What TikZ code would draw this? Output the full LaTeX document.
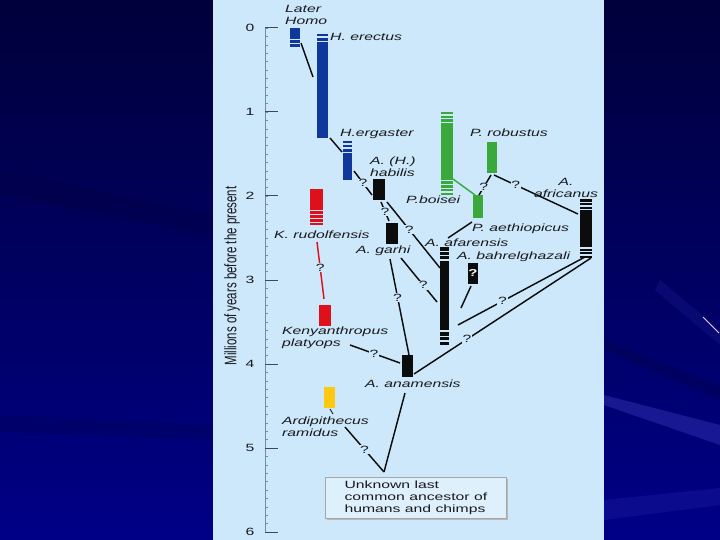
\documentclass[tikz,border=0pt]{standalone}
\usepackage{graphicx}
\usepackage{fontspec}
\setmainfont{Liberation Sans}
\newfontfamily\lf[FakeStretch=1.5]{Liberation Sans}
\usetikzlibrary{calc}
\definecolor{panel}{RGB}{204,232,250}
\definecolor{boxfill}{RGB}{222,240,252}
\definecolor{hblue}{RGB}{16,56,156}
\definecolor{hgreen}{RGB}{58,168,58}
\definecolor{hred}{RGB}{222,16,26}
\definecolor{hyellow}{RGB}{252,200,16}
\definecolor{barblack}{RGB}{12,12,12}
\definecolor{txt}{RGB}{25,25,30}
\definecolor{axisc}{RGB}{120,140,160}
\definecolor{bgtop}{RGB}{0,0,58}
\definecolor{bgmid}{RGB}{0,0,105}
\definecolor{bgbot}{RGB}{0,0,135}
\definecolor{streak}{RGB}{80,80,215}
\definecolor{darkstreak}{RGB}{0,0,40}
\definecolor{pinkline}{RGB}{235,205,240}
\newcommand\mybar[6]{\node[bar, fill=#2, minimum width={(#5-#3)*1pt}, minimum height={(#6-#4)*1pt}] (#1) at (#3,#4) {};}
\newcommand\mygaps[3]{\foreach \gy in {#3} {\draw[gapline] (#1,\gy) -- (#2,\gy);}}
\begin{document}
\begin{tikzpicture}[x=1pt,y=-1pt,
  bar/.style={inner sep=0pt, outer sep=0pt, anchor=north west, draw=none},
  gapline/.style={draw=panel, line width=1.3pt},
  lab/.style={font=\lf\itshape\fontsize{10.5}{12}\selectfont, text=txt, inner sep=0pt},
  up/.style={font=\lf\fontsize{10.5}{12}\selectfont, text=txt, inner sep=0pt},
  q/.style={font=\lf\fontsize{10.5}{12}\selectfont, text=txt, fill=panel, inner sep=0.8pt},
  conn/.style={draw=barblack, line width=1.45pt},
]
\useasboundingbox (0,0) rectangle (720,540);
% background
\shade[top color=bgtop, middle color=bgmid, bottom color=bgbot] (0,0) rectangle (720,540);
\fill[darkstreak, opacity=0.15] (0,170) -- (213,215) -- (213,235) -- (0,195) -- cycle;
\fill[darkstreak, opacity=0.15] (0,415) -- (213,425) -- (213,440) -- (0,432) -- cycle;
\fill[darkstreak, opacity=0.2] (604,340) -- (720,385) -- (720,400) -- (604,350) -- cycle;
\fill[streak, opacity=0.3] (604,395) -- (720,425) -- (720,445) -- (604,405) -- cycle;
\fill[streak, opacity=0.15] (604,500) -- (720,488) -- (720,505) -- (604,520) -- cycle;
\fill[streak, opacity=0.12] (660,280) -- (720,330) -- (720,345) -- (655,290) -- cycle;
\draw[pinkline, line width=0.8pt] (703,317) -- (719,333);
% panel
\fill[panel] (213,0) rectangle (604,540);
% axis
\draw[axisc, line width=0.9pt] (265,28) -- (265,532);
\foreach \k in {0,...,60} {\draw[axisc, line width=0.4pt] (265,{28+8.4*\k}) -- (268,{28+8.4*\k});}
\foreach \k in {0,...,6} {
  \draw[txt!80, line width=1pt] (265,{28+84*\k}) -- (278,{28+84*\k});
  \node[up, font=\lf\fontsize{10.5}{12}\selectfont] (num\k) at (250,{28+84*\k}) {\k};
}
\node[font=\fontsize{11.5}{13}\selectfont, text=txt, rotate=90, inner sep=0pt] (ylab) at (232,276) {\scalebox{1}[1.45]{Millions of years before the present}};
% bars
\mybar{laterhomo}{hblue}{290}{28}{300}{47}
\mygaps{290}{300}{39.5,43.5}
\mybar{erectus}{hblue}{317}{34}{328}{138}
\mygaps{317}{328}{37,41.2}
\mybar{ergaster}{hblue}{343}{141}{352}{180}
\mygaps{343}{352}{144,148,152.5}
\mybar{habilis}{barblack}{373}{179}{385}{200}
\mybar{rudolf}{hred}{310}{189}{323}{225}
\mygaps{310}{323}{210.8,214.8,218.8,222.5}
\mybar{kenya}{hred}{319}{305}{331}{326}
\mybar{garhi}{barblack}{386}{223}{398}{244}
\mybar{anam}{barblack}{402}{355}{413}{377}
\mybar{afar}{barblack}{440}{247}{449}{345}
\mygaps{440}{449}{251.5,255.5,260,331,336.5,341}
\node[bar, fill=barblack, minimum width=10pt, minimum height=21pt, text=white, font=\lf\bfseries\fontsize{10}{12}\selectfont] (bah) at (468,263) {?};
\mybar{boisei}{hgreen}{441}{112}{453}{195}
\mygaps{441}{453}{115,118.5,122.5,180.5,184.5,188.5,192}
\mybar{robustus}{hgreen}{487}{142}{497}{173}
\mybar{aethiop}{hgreen}{473}{195}{483}{218}
\mybar{africanus}{barblack}{580}{199}{592}{258}
\mygaps{580}{592}{202.5,206,209.5,248,251.5,255}
\mybar{ardi}{hyellow}{324}{387}{335}{408}
% labels
\node[lab, align=left, anchor=west] (llh) at (285,15) {Later\\Homo};
\node[lab, anchor=base west] (ler) at (330,41) {H. erectus};
\node[lab, anchor=base west] (leg) at (340,137) {H.ergaster};
\node[lab, align=left, anchor=west] (lhb) at (370,167) {A. (H.)\\habilis};
\node[lab, anchor=base west] (lbo) at (406,204) {P.boisei};
\node[lab, anchor=base west] (lro) at (470,137) {P. robustus};
\node[lab, align=center] (lafr) at (566,188) {A.\\africanus};
\node[lab, anchor=base west] (lae) at (472,231) {P. aethiopicus};
\node[lab, anchor=base west] (laf) at (425,246) {A. afarensis};
\node[lab, anchor=base west] (lba) at (457,259) {A. bahrelghazali};
\node[lab, anchor=base west] (lru) at (274,238) {K. rudolfensis};
\node[lab, anchor=base west] (lga) at (356,254) {A. garhi};
\node[lab, align=left, anchor=west] (lke) at (282,338) {Kenyanthropus\\platyops};
\node[lab, anchor=base west] (lan) at (365,387) {A. anamensis};
\node[lab, align=left, anchor=west] (lar) at (282,427) {Ardipithecus\\ramidus};
% unknown ancestor box
\fill[gray!55] (327,479) rectangle (508,520);
\node[draw=gray!70, fill=boxfill, line width=0.7pt, minimum width=181pt, minimum height=41pt, anchor=north west, inner sep=0pt, align=left, up] (lcabox) at (325,477) {Unknown last\\common ancestor of\\humans and chimps};
% connector end points
\coordinate (lh1) at (301,43);   \coordinate (lh2) at (313,77);
\coordinate (er1) at (330,138);  \coordinate (er2) at (342,152);
\coordinate (eg1) at (354,171);  \coordinate (eg2) at (372,195);
\coordinate (hb1) at (381,202);  \coordinate (hb2) at (389,221);
\coordinate (hb3) at (387,202);  \coordinate (af1) at (440,268);
\coordinate (ga1) at (401,258);  \coordinate (af2) at (437,302);
\coordinate (ga2) at (390,259);  \coordinate (an1) at (409,355);
\coordinate (ru1) at (317,242);  \coordinate (ke1) at (324,299);
\coordinate (ke2) at (350,345);  \coordinate (an2) at (400,363);
\coordinate (ar1) at (345,427);  \coordinate (lca) at (384,472);
\coordinate (an3) at (405,393);
\coordinate (ae1) at (472,222);  \coordinate (af3) at (448,238);
\coordinate (bo1) at (453,179);  \coordinate (ae2) at (475,195);
\coordinate (ro1) at (491,175);  \coordinate (ae3) at (479,195);
\coordinate (ro2) at (494,175);  \coordinate (afr1) at (578,214);
\coordinate (afr2) at (585,257); \coordinate (af4) at (458,325);
\coordinate (afr3) at (591,258); \coordinate (an4) at (414,374);
\coordinate (ba1) at (471,286);  \coordinate (af5) at (461,308);
\coordinate (ardt1) at (330,409); \coordinate (ardt2) at (333,414);
% connectors
\draw[conn] (lh1) -- (lh2);
\draw[conn] (er1) -- (er2);
\draw[conn] (eg1) -- node[q, pos=0.5] (q1) {?} (eg2);
\draw[conn] (hb1) -- node[q, pos=0.5] (q2) {?} (hb2);
\draw[conn] (hb3) -- node[q, pos=0.42] (q3) {?} (af1);
\draw[conn] (ga1) -- node[q, pos=0.62] (q4) {?} (af2);
\draw[conn] (ga2) -- node[q, pos=0.4] (q5) {?} (an1);
\draw[conn, draw=hred] (ru1) -- node[q, pos=0.45] (q6) {?} (ke1);
\draw[conn] (ke2) -- node[q, pos=0.48] (q7) {?} (an2);
\draw[conn] (ar1) -- node[q, pos=0.5] (q8) {?} (lca);
\draw[conn] (an3) -- (lca);
\draw[conn] (ae1) -- (af3);
\draw[conn, draw=hgreen] (bo1) -- (ae2);
\draw[conn] (ro1) -- node[q, pos=0.6] (q9) {?} (ae3);
\draw[conn] (ro2) -- node[q, pos=0.26] (q10) {?} (afr1);
\draw[conn] (afr2) -- node[q, pos=0.65] (q11) {?} (af4);
\draw[conn] (afr3) -- node[q, pos=0.7] (q12) {?} (an4);
\draw[conn] (ba1) -- (af5);
\draw[conn, line width=0.8pt] (ardt1) -- (ardt2);
\end{tikzpicture}
\end{document}
